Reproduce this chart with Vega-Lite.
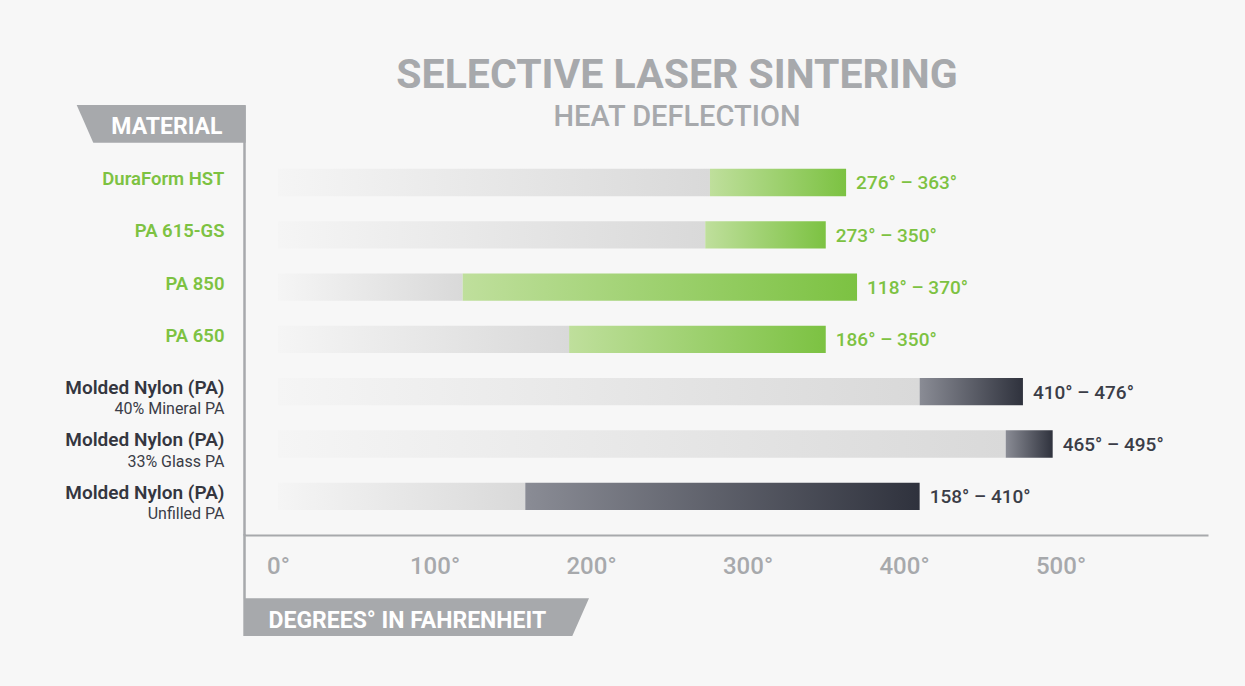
{
  "$schema": "https://vega.github.io/schema/vega-lite/v6.json",
  "width": 964,
  "height": 430,
  "autosize": {"type": "none"},
  "padding": {"left": 244, "top": 105, "right": 37, "bottom": 151},
  "background": "#f7f7f7",
  "config": {"font": "Roboto", "view": {"stroke": null}},
  "title": {
    "text": "SELECTIVE LASER SINTERING",
    "subtitle": "HEAT DEFLECTION",
    "anchor": "middle",
    "frame": "group",
    "dx": -49,
    "offset": -60,
    "baseline": "alphabetic",
    "font": "Roboto",
    "fontSize": 41,
    "fontWeight": "bold",
    "color": "#a7a9ac",
    "subtitleFont": "Roboto",
    "subtitleFontSize": 29,
    "subtitleFontWeight": 500,
    "subtitleColor": "#a7a9ac",
    "subtitlePadding": -3
  },
  "data": {
    "values": [
      {"key": "DuraForm HST", "group": "SLS", "low": 276, "high": 363, "range": "276° – 363°"},
      {"key": "PA 615-GS", "group": "SLS", "low": 273, "high": 350, "range": "273° – 350°"},
      {"key": "PA 850", "group": "SLS", "low": 118, "high": 370, "range": "118° – 370°"},
      {"key": "PA 650", "group": "SLS", "low": 186, "high": 350, "range": "186° – 350°"},
      {"key": "Molded Nylon (PA)|40% Mineral PA", "group": "Molded", "low": 410, "high": 476, "range": "410° – 476°"},
      {"key": "Molded Nylon (PA)|33% Glass PA", "group": "Molded", "low": 465, "high": 495, "range": "465° – 495°"},
      {"key": "Molded Nylon (PA)|Unfilled PA", "group": "Molded", "low": 158, "high": 410, "range": "158° – 410°"}
    ]
  },
  "layer": [
    {
      "mark": {
        "type": "bar",
        "fill": {"gradient": "linear", "stops": [{"offset": 0, "color": "#f5f5f5"}, {"offset": 1, "color": "#d9d9d9"}]}
      },
      "encoding": {
        "y": {
          "field": "key",
          "type": "nominal",
          "sort": null,
          "scale": {
            "domain": ["DuraForm HST", "PA 615-GS", "PA 850", "PA 650", "Molded Nylon (PA)|40% Mineral PA", "Molded Nylon (PA)|33% Glass PA", "Molded Nylon (PA)|Unfilled PA"],
            "paddingInner": 0.478,
            "paddingOuter": 0.85,
            "align": 0.718
          },
          "axis": {
            "orient": "left",
            "zindex": 1,
            "grid": false,
            "ticks": false,
            "tickSize": 0,
            "domain": true,
            "domainColor": "#a7a9ac",
            "domainWidth": 2.5,
            "labelExpr": "split(datum.value, '|')[0]",
            "labelAlign": "right",
            "labelBaseline": "alphabetic",
            "labelOffset": 2.5,
            "labelPadding": 20,
            "labelFontSize": {"condition": {"test": "indexof(datum.value, 'Molded') === 0", "value": 19}, "value": 18.5},
            "labelFontWeight": 600,
            "labelLimit": 300,
            "labelColor": {"condition": {"test": "indexof(datum.value, 'Molded') === 0", "value": "#34363f"}, "value": "#7dc242"},
            "title": "MATERIAL",
            "titleColor": "#ffffff",
            "titleFontSize": 23,
            "titleFontWeight": "bold",
            "titleAngle": 0,
            "titleAlign": "right",
            "titleBaseline": "alphabetic",
            "titleX": -22,
            "titleY": 28
          }
        },
        "x": {
          "field": "low",
          "type": "quantitative",
          "scale": {"domain": [-21.73, 594.25], "nice": false, "zero": false},
          "axis": {
            "orient": "bottom",
            "zindex": 1,
            "values": [0, 100, 200, 300, 400, 500],
            "labelExpr": "datum.value + '°'",
            "grid": false,
            "ticks": false,
            "tickSize": 0,
            "domainColor": "#a7a9ac",
            "domainWidth": 2,
            "labelFontSize": 24,
            "labelFontWeight": 500,
            "labelColor": "#a7a9ac",
            "labelPadding": 38,
            "labelBaseline": "alphabetic",
            "labelAlign": "center",
            "labelDx": 6,
            "labelFlush": false,
            "title": "DEGREES° IN FAHRENHEIT",
            "titleColor": "#ffffff",
            "titleFontSize": 23,
            "titleFontWeight": "bold",
            "titleAlign": "left",
            "titleBaseline": "alphabetic",
            "titleAnchor": "start",
            "titleX": 24,
            "titleY": 92
          }
        },
        "x2": {"datum": 0}
      }
    },
    {
      "mark": {"type": "bar"},
      "encoding": {
        "y": {"field": "key", "type": "nominal", "sort": null, "axis": null},
        "x": {"field": "low", "type": "quantitative"},
        "x2": {"field": "high"},
        "fill": {
          "condition": {
            "test": "datum.group === 'SLS'",
            "value": {"gradient": "linear", "stops": [{"offset": 0, "color": "#bfdf9c"}, {"offset": 1, "color": "#7cc242"}]}
          },
          "value": {"gradient": "linear", "stops": [{"offset": 0, "color": "#8a8c95"}, {"offset": 1, "color": "#2f323d"}]}
        }
      }
    },
    {
      "mark": {"type": "text", "align": "left", "baseline": "alphabetic", "dx": 10, "dy": 7, "fontSize": 19, "fontWeight": 500},
      "encoding": {
        "y": {
          "field": "key",
          "type": "nominal",
          "sort": null,
          "axis": {
            "orient": "left",
            "zindex": 1,
            "title": null,
            "grid": false,
            "domain": false,
            "ticks": false,
            "tickSize": 0,
            "labelExpr": "length(split(datum.value, '|')) > 1 ? split(datum.value, '|')[1] : ''",
            "labelAlign": "right",
            "labelBaseline": "alphabetic",
            "labelOffset": 22.7,
            "labelPadding": 20,
            "labelFontSize": 16,
            "labelFontWeight": 400,
            "labelLimit": 300,
            "labelColor": "#3b3d47"
          }
        },
        "x": {"field": "high", "type": "quantitative"},
        "text": {"field": "range"},
        "color": {"condition": {"test": "datum.group === 'SLS'", "value": "#7dc242"}, "value": "#3b3d47"}
      }
    },
    {
      "data": {"values": [{"banner": "MATERIAL"}]},
      "mark": {
        "type": "point",
        "shape": "M-167.3,-77.5 L1.7,-77.5 L1.7,-39.8 L-150.7,-39.8 Z",
        "size": 4,
        "filled": true,
        "opacity": 1,
        "strokeWidth": 0,
        "color": "#a7a9ac"
      },
      "encoding": {
        "x": {"datum": -21.73, "type": "quantitative"},
        "y": {"datum": "DuraForm HST", "type": "nominal", "axis": null}
      }
    },
    {
      "data": {"values": [{"banner": "DEGREES"}]},
      "mark": {
        "type": "point",
        "shape": "M-0.7,102 L345,102 L328.3,139.7 L-0.7,139.7 Z M-0.75,38 L1.75,38 L1.75,103 L-0.75,103 Z",
        "size": 4,
        "filled": true,
        "opacity": 1,
        "strokeWidth": 0,
        "color": "#a7a9ac"
      },
      "encoding": {
        "x": {"datum": -21.73, "type": "quantitative"},
        "y": {"datum": "Molded Nylon (PA)|Unfilled PA", "type": "nominal", "axis": null}
      }
    }
  ],
  "resolve": {"axis": {"y": "independent"}}
}
